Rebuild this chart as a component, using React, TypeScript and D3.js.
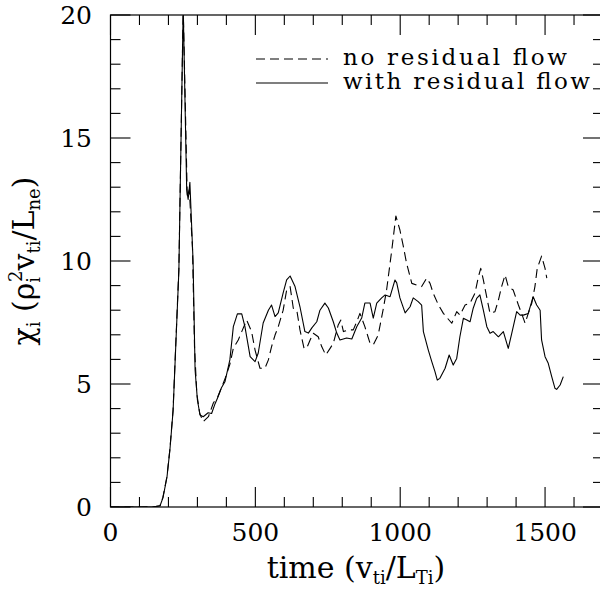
import React from "react";
import * as d3 from "d3";

const solidT = [0, 100, 150, 171, 181, 195, 205, 216, 236, 251, 263, 268, 274, 285, 292, 300, 309, 320, 337, 349, 361, 371, 383, 395, 412, 424, 438, 453, 464, 482, 499, 510, 527, 545, 556, 568, 579, 596, 608, 620, 637, 654, 671, 683, 695, 712, 723, 740, 752, 769, 781, 792, 815, 833, 850, 867, 878, 896, 907, 919, 936, 948, 965, 982, 988, 999, 1017, 1034, 1045, 1062, 1074, 1080, 1097, 1109, 1120, 1128, 1137, 1155, 1169, 1183, 1195, 1206, 1218, 1230, 1241, 1252, 1264, 1275, 1287, 1299, 1310, 1321, 1339, 1356, 1373, 1385, 1402, 1414, 1425, 1442, 1459, 1471, 1483, 1488, 1500, 1511, 1523, 1534, 1540, 1552, 1563];
const solidV = [0, 0, 0.01, 0.05, 0.37, 1.22, 2.32, 3.9, 9.6, 20.3, 12.9, 12.5, 13.2, 10.0, 5.57, 4.35, 3.74, 3.67, 3.83, 3.8, 4.2, 4.47, 4.85, 5.09, 5.98, 7.33, 7.85, 7.85, 7.33, 6.11, 5.91, 6.26, 7.48, 8.0, 8.21, 7.74, 7.89, 8.7, 9.23, 9.39, 8.96, 8.14, 7.13, 7.07, 7.28, 7.53, 8.0, 8.29, 8.09, 7.53, 7.07, 6.79, 6.87, 6.83, 7.33, 7.68, 8.29, 8.29, 7.68, 8.29, 8.5, 8.62, 8.55, 9.23, 9.11, 8.5, 7.89, 8.14, 8.5, 8.35, 8.21, 7.13, 6.38, 5.91, 5.5, 5.16, 5.23, 5.64, 6.18, 5.77, 6.04, 6.92, 7.67, 7.6, 7.53, 8.08, 8.48, 8.62, 8.0, 7.33, 7.06, 7.13, 6.92, 7.13, 6.45, 7.06, 7.94, 7.8, 7.8, 7.87, 8.55, 8.21, 8.0, 6.79, 6.11, 5.84, 5.3, 4.83, 4.78, 4.96, 5.3];

const dashedT = [0, 100, 150, 171, 181, 195, 205, 216, 236, 251, 265, 272, 283, 290, 298, 308, 320, 338, 355, 371, 395, 412, 424, 441, 453, 470, 487, 499, 516, 533, 545, 556, 568, 579, 596, 608, 620, 631, 643, 654, 668, 677, 689, 700, 717, 729, 743, 758, 769, 786, 795, 804, 821, 838, 850, 861, 878, 896, 907, 924, 942, 953, 971, 985, 999, 1011, 1022, 1040, 1057, 1074, 1091, 1103, 1114, 1132, 1149, 1178, 1195, 1206, 1224, 1241, 1258, 1270, 1278, 1287, 1296, 1310, 1327, 1339, 1350, 1362, 1373, 1390, 1408, 1419, 1431, 1442, 1454, 1465, 1473, 1488, 1500, 1506];
const dashedV = [0, 0, 0.01, 0.05, 0.4, 1.25, 2.35, 3.95, 9.7, 20.3, 12.6, 12.9, 10.5, 6.5, 4.6, 3.8, 3.47, 3.67, 4.23, 4.5, 5.2, 5.8, 6.45, 6.79, 7.13, 7.6, 7.13, 6.38, 5.64, 5.64, 5.98, 6.52, 6.99, 7.33, 8.0, 8.82, 8.96, 8.08, 8.0, 7.2, 6.45, 6.45, 6.79, 7.06, 6.92, 6.52, 6.18, 6.45, 6.65, 7.4, 7.6, 7.13, 7.2, 7.2, 7.53, 7.87, 7.33, 6.65, 6.59, 6.99, 8.08, 8.82, 10.45, 11.83, 11.26, 10.58, 9.91, 9.09, 9.02, 8.96, 9.3, 9.09, 8.69, 8.21, 7.87, 7.47, 7.94, 7.8, 8.21, 8.28, 8.69, 9.36, 9.7, 9.23, 8.69, 7.87, 7.94, 8.41, 8.96, 9.43, 8.96, 8.82, 8.21, 7.87, 7.47, 7.87, 8.28, 8.96, 9.7, 10.2, 9.7, 9.3];

const xMajorTicks = [0, 500, 1000, 1500];
const yMajorTicks = [0, 5, 10, 15, 20];
const legendLabels = ["no residual flow", "with residual flow"];

const W = 600, H = 592;
const L = 110.5, R = 603, T = 15, B = 507;
const FONT = "DejaVu Serif";

export default function App() {
  const x = d3.scaleLinear().domain([0, 1700]).range([L, R]);
  const y = d3.scaleLinear().domain([0, 20]).range([B, T]);
  const xMinor = d3.range(0, 1701, 100);
  const yMinor = d3.range(0, 21, 1);
  const mk = (ts: number[], vs: number[]) =>
    d3.line<number>().x((_, i) => x(ts[i])).y((_, i) => y(vs[i]))(ts) || "";
  const solidPath = mk(solidT, solidV);
  const dashedPath = mk(dashedT, dashedV);
  const dash = "9,5";

  return (
    <svg width={W} height={H} style={{ position: "absolute", left: 0, top: 0, display: "block", background: "#fff" }} fontFamily={FONT}>
      <defs>
        <clipPath id="plot">
          <rect x={L} y={T} width={R - L} height={B - T} />
        </clipPath>
      </defs>
      <rect x={0} y={0} width={W} height={H} fill="#fff" />
      <g clipPath="url(#plot)" fill="none" strokeLinejoin="round">
        <path d={dashedPath} stroke="#000" strokeWidth={1.1} strokeDasharray={dash} />
        <path d={solidPath} stroke="#000" strokeWidth={1.1} />
      </g>
      <rect x={L} y={T} width={R - L} height={B - T} fill="none" stroke="#000" strokeWidth={1.2} />
      {xMinor.map((v) => {
        const len = v % 500 === 0 ? 20 : 10;
        return (
          <g key={"xt" + v} stroke="#000" strokeWidth={1.1}>
            <line x1={x(v)} x2={x(v)} y1={B} y2={B - len} />
            <line x1={x(v)} x2={x(v)} y1={T} y2={T + len} />
          </g>
        );
      })}
      {yMinor.map((v) => {
        const len = v % 5 === 0 ? 20 : 10;
        return (
          <g key={"yt" + v} stroke="#000" strokeWidth={1.1}>
            <line x1={L} x2={L + len} y1={y(v)} y2={y(v)} />
            <line x1={R} x2={R - len} y1={y(v)} y2={y(v)} />
          </g>
        );
      })}
      {xMajorTicks.map((v) => (
        <text key={"xl" + v} x={x(v)} y={541} textAnchor="middle" fontSize={25}>{v}</text>
      ))}
      {yMajorTicks.map((v) => (
        <text key={"yl" + v} x={92} y={y(v) + 9} textAnchor="end" fontSize={25}>{v}</text>
      ))}
      <text x={356} y={578} textAnchor="middle" fontSize={30}>
        time (v<tspan fontSize={18} dy={6}>ti</tspan><tspan dy={-6}>/L</tspan><tspan fontSize={18} dy={6}>Ti</tspan><tspan dy={-6}>)</tspan>
      </text>
      <text transform={`translate(34, 261) rotate(-90)`} textAnchor="middle" fontSize={30}>
        χ<tspan fontSize={18} dy={6}>i</tspan><tspan dy={-6}> (ρ</tspan><tspan fontSize={18} dy={6}>i</tspan><tspan fontSize={18} dx={-5} dy={-18}>2</tspan><tspan dy={12}>v</tspan><tspan fontSize={18} dy={6}>ti</tspan><tspan dy={-6}>/L</tspan><tspan fontSize={18} dy={6}>ne</tspan><tspan dy={-6}>)</tspan>
      </text>
      <line x1={256} x2={328} y1={59} y2={59} stroke="#000" strokeWidth={1.1} strokeDasharray={dash} />
      <line x1={256} x2={328} y1={83} y2={83} stroke="#000" strokeWidth={1.1} />
      <text x={343} y={65} fontSize={23} textLength={224} lengthAdjust="spacing">{legendLabels[0]}</text>
      <text x={343} y={89} fontSize={23} textLength={247} lengthAdjust="spacing">{legendLabels[1]}</text>
    </svg>
  );
}
